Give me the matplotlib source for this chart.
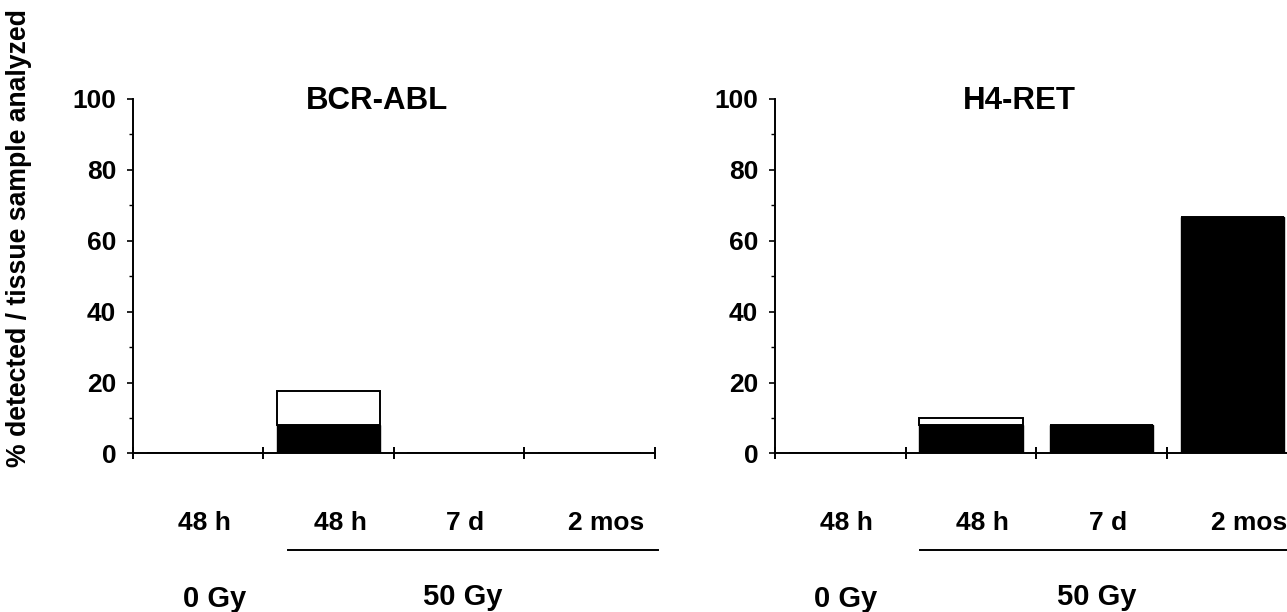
import numpy as np
import matplotlib
matplotlib.use("Agg")
import matplotlib.pyplot as plt
from matplotlib.ticker import MultipleLocator

plt.rcParams['font.family'] = ['Liberation Sans', 'DejaVu Sans']
plt.rcParams['font.weight'] = 'bold'

categories = ['48 h', '48 h', '7 d', '2 mos']
dose_labels = ['0 Gy', '50 Gy']

bcr_black = [0, 8.0, 0, 0]
bcr_total = [0, 17.6, 0, 0]
h4_black = [0, 8.0, 8.0, 66.7]
h4_total = [0, 10.0, 8.0, 66.7]

# title, black part, total, axes rect, line start, 0 Gy x, 50 Gy x
panels = [
    ('BCR-ABL', bcr_black, bcr_total, [0.1033, 0.259, 0.4053, 0.580], 1.19, 0.63, 2.53),
    ('H4-RET', h4_black, h4_total, [0.6022, 0.259, 0.4059, 0.580], 1.11, 0.54, 2.46),
]

fig = plt.figure(figsize=(12.87, 6.12), dpi=100)


def draw_panel(title, black, total, rect, line_x0, gy0_x, gy50_x):
    ax = fig.add_axes(rect)
    x = np.arange(len(categories)) + 0.5
    black = np.array(black)
    white = np.array(total) - black
    ax.bar(x, black, width=0.79, color='black', edgecolor='black', linewidth=1.0)
    ax.bar(x, white, width=0.79, bottom=black, color='white',
           edgecolor='black', linewidth=1.4)
    ax.set_xlim(0, 4)
    ax.set_ylim(0, 100)
    for s in ['top', 'right']:
        ax.spines[s].set_visible(False)
    for s in ['left', 'bottom']:
        ax.spines[s].set_linewidth(1.4)
    ax.set_xticks([0, 1, 2, 3, 4])
    ax.set_xticklabels([])
    ax.tick_params(axis='x', direction='inout', length=8, width=1.4)
    ax.yaxis.set_major_locator(MultipleLocator(20))
    ax.yaxis.set_minor_locator(MultipleLocator(10))
    ax.tick_params(axis='y', which='major', direction='out', length=4,
                   width=1.2, labelsize=19, pad=8)
    ax.tick_params(axis='y', which='minor', direction='out', length=3, width=1.0)

    ax.text(1.87, 97.0, title, ha='center', va='baseline', fontsize=22.5,
            fontweight='bold')
    offsets = [0.05, 0.09, 0.05, 0.13]
    for xi, lab, off in zip(x, categories, offsets):
        ax.text(xi + off, -19.5, lab, ha='center', va='center', fontsize=19,
                fontweight='bold', clip_on=False)
    ax.plot([line_x0, 4.03], [-27.2, -27.2], color='black', lw=1.4, clip_on=False)
    ax.text(gy0_x, -41.0, dose_labels[0], ha='center', va='center', fontsize=21,
            fontweight='bold', clip_on=False)
    ax.text(gy50_x, -40.5, dose_labels[1], ha='center', va='center', fontsize=21,
            fontweight='bold', clip_on=False)
    return ax


for panel in panels:
    draw_panel(*panel)

fig.text(0.015, 0.611, '% detected / tissue sample analyzed', rotation=90,
         ha='center', va='center', fontsize=19.2, fontweight='bold')

fig.savefig('out.png', dpi=100, facecolor='white')
